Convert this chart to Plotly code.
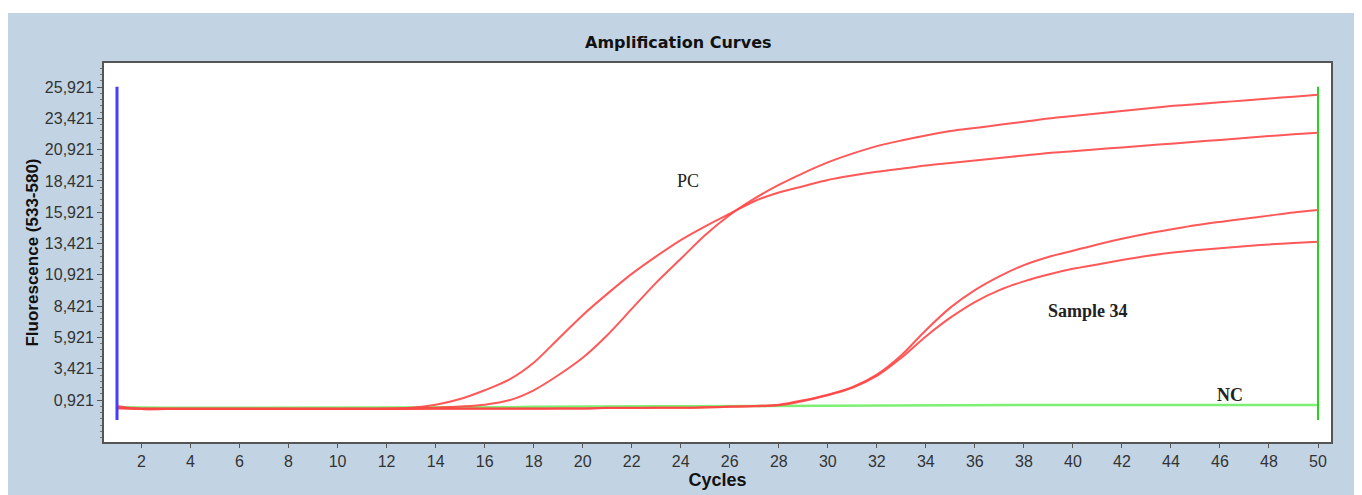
import plotly.graph_objects as go

cycles = list(range(1, 51))

pc_early = [0.45, 0.2, 0.2, 0.2, 0.2, 0.2, 0.2, 0.2, 0.2, 0.2,
            0.2, 0.22, 0.3, 0.55, 1.0, 1.7, 2.55, 3.9, 5.8, 7.7,
            9.4, 11.0, 12.4, 13.7, 14.8, 15.8, 16.8, 17.5, 18.0, 18.5,
            18.85, 19.15, 19.4, 19.65, 19.85, 20.05, 20.25, 20.45, 20.65, 20.8,
            20.95, 21.1, 21.25, 21.4, 21.55, 21.7, 21.85, 22.0, 22.15, 22.27]

pc_late = [0.3, 0.2, 0.2, 0.2, 0.2, 0.2, 0.2, 0.2, 0.2, 0.2,
           0.2, 0.2, 0.22, 0.3, 0.4, 0.55, 0.9, 1.7, 2.9, 4.3,
           6.1, 8.2, 10.3, 12.2, 14.1, 15.7, 17.0, 18.1, 19.05, 19.9,
           20.6, 21.2, 21.65, 22.05, 22.4, 22.65, 22.9, 23.15, 23.4, 23.6,
           23.8, 24.0, 24.2, 24.4, 24.55, 24.7, 24.85, 25.0, 25.15, 25.3]

sample_hi = [0.3, 0.25, 0.25, 0.25, 0.25, 0.25, 0.25, 0.25, 0.25, 0.25,
             0.25, 0.25, 0.25, 0.25, 0.25, 0.25, 0.25, 0.25, 0.25, 0.25,
             0.3, 0.3, 0.3, 0.3, 0.35, 0.4, 0.45, 0.55, 0.9, 1.35,
             1.95, 2.95, 4.5, 6.5, 8.3, 9.7, 10.8, 11.7, 12.35, 12.85,
             13.35, 13.8, 14.2, 14.55, 14.88, 15.15, 15.4, 15.65, 15.9, 16.1]

sample_lo = [0.25, 0.22, 0.22, 0.22, 0.22, 0.22, 0.22, 0.22, 0.22, 0.22,
             0.22, 0.22, 0.22, 0.22, 0.22, 0.22, 0.22, 0.22, 0.25, 0.25,
             0.28, 0.28, 0.3, 0.3, 0.33, 0.38, 0.42, 0.5, 0.85, 1.3,
             1.9, 2.85, 4.3, 6.0, 7.5, 8.75, 9.7, 10.4, 10.95, 11.4,
             11.75, 12.1, 12.42, 12.68, 12.88, 13.05, 13.2, 13.35, 13.47, 13.57]

nc = [0.35, 0.3, 0.3, 0.3, 0.3, 0.3, 0.3, 0.3, 0.3, 0.3,
      0.3, 0.3, 0.3, 0.32, 0.32, 0.33, 0.35, 0.38, 0.4, 0.4,
      0.4, 0.42, 0.42, 0.42, 0.43, 0.43, 0.44, 0.45, 0.45, 0.46,
      0.46, 0.47, 0.52, 0.52, 0.52, 0.52, 0.52, 0.52, 0.52, 0.52,
      0.52, 0.52, 0.52, 0.52, 0.52, 0.52, 0.52, 0.52, 0.52, 0.52]

range_start_x = [1, 1]
range_end_x = [50, 50]
range_y = [-0.68, 25.95]

ytick_vals = [0.921, 3.421, 5.921, 8.421, 10.921, 13.421, 15.921, 18.421, 20.921, 23.421, 25.921]
ytick_text = ["0,921", "3,421", "5,921", "8,421", "10,921", "13,421", "15,921",
              "18,421", "20,921", "23,421", "25,921"]
xtick_vals = list(range(2, 51, 2))

labels = ["PC", "Sample 34", "NC"]
label_x = [24.3, 40.6, 46.4]
label_y = [18.4, 8.0, 1.3]

NARROW = "Liberation Sans Narrow, Arial Narrow, Liberation Sans, Arial"
RED = "rgba(255,70,70,0.9)"
PANEL = "#c2d4e4"

W, H = 1354, 487
L, R, T, B = 96, 31, 55, 53
PW, PH = W - L - R, H - T - B

fig = go.Figure()

fig.add_trace(go.Scatter(x=cycles, y=nc, mode="lines",
                         line=dict(color="rgb(125,240,115)", width=2.5), hoverinfo="skip"))
for ys in [pc_early, pc_late, sample_hi, sample_lo]:
    fig.add_trace(go.Scatter(x=cycles, y=ys, mode="lines",
                             line=dict(color=RED, width=2, shape="spline", smoothing=0.8),
                             hoverinfo="skip"))
fig.add_trace(go.Scatter(x=range_start_x, y=range_y, mode="lines",
                         line=dict(color="rgb(70,60,255)", width=3), hoverinfo="skip"))
fig.add_trace(go.Scatter(x=range_end_x, y=range_y, mode="lines",
                         line=dict(color="rgb(40,210,30)", width=2), hoverinfo="skip"))

# white strip above the panel
fig.add_shape(type="rect", xref="paper", yref="paper",
              x0=-0.2, x1=1.2, y0=(PH + T - 5) / PH, y1=(PH + T + 5) / PH,
              fillcolor="white", line=dict(width=0), layer="below")

fig.add_annotation(text="<b>Amplification Curves</b>", xref="paper", yref="paper",
                   x=(670 - L) / PW, y=(PH + T - 35) / PH, showarrow=False,
                   xanchor="center", yanchor="middle",
                   font=dict(family="DejaVu Sans", size=16, color="#111"))

serif = "Liberation Serif, Times New Roman, serif"
texts = [labels[0], "<b>" + labels[1] + "</b>", "<b>" + labels[2] + "</b>"]
for t, xx, yy in zip(texts, label_x, label_y):
    fig.add_annotation(text=t, x=xx, y=yy, showarrow=False,
                       xanchor="center", yanchor="middle",
                       font=dict(family=serif, size=18, color="#222"))

fig.update_layout(
    width=W, height=H,
    margin=dict(l=L, r=R, t=T, b=B),
    paper_bgcolor=PANEL, plot_bgcolor="white",
    showlegend=False,
    xaxis=dict(range=[0.47, 50.53], tickvals=xtick_vals, ticks="outside", ticklen=4,
               tickcolor="#555", showgrid=False, zeroline=False,
               showline=True, linecolor="#555", linewidth=2, mirror=True,
               tickfont=dict(family=NARROW, size=16, color="#333"),
               title=dict(text="<b>Cycles</b>", standoff=0,
                          font=dict(family=NARROW, size=18, color="#111"))),
    yaxis=dict(range=[-2.43, 27.84], tickvals=ytick_vals, ticktext=ytick_text,
               ticks="outside", ticklen=5, tickcolor="#555",
               minor=dict(tick0=0.921, dtick=0.5, ticks="outside", ticklen=2, tickcolor="#777"),
               showgrid=False, zeroline=False,
               showline=True, linecolor="#555", linewidth=2, mirror=True,
               tickfont=dict(family=NARROW, size=16, color="#333"),
               title=dict(text="<b>Fluorescence (533-580)</b>", standoff=2,
                          font=dict(family=NARROW, size=17, color="#111"))),
)

fig.write_html("out.html")
